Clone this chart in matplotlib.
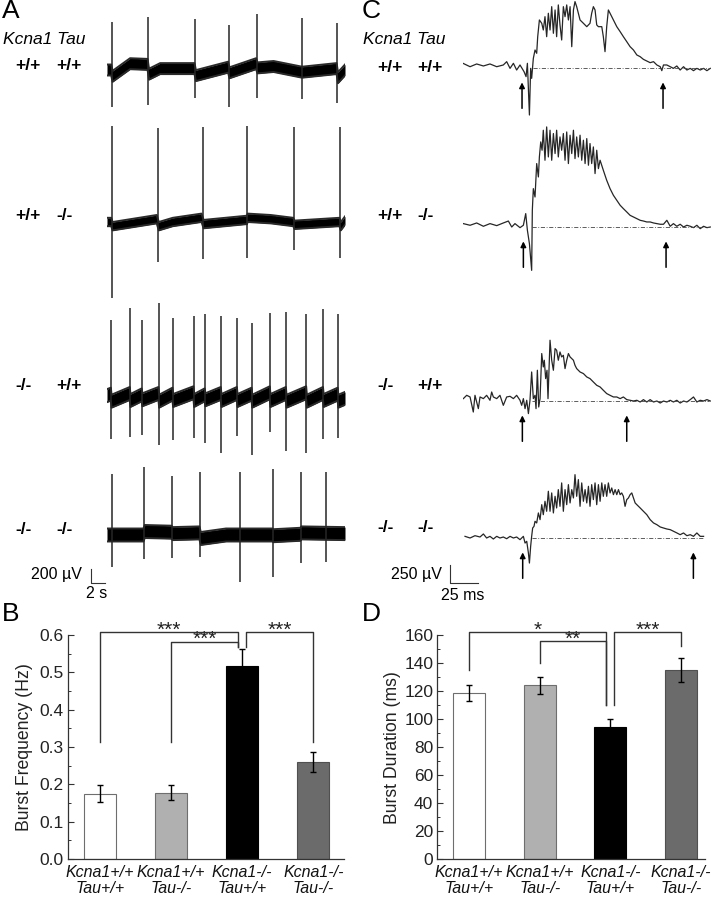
import numpy as np
import matplotlib
matplotlib.use('Agg')
import matplotlib.pyplot as plt
from matplotlib.ticker import MultipleLocator

plt.rcParams['font.family'] = ['Liberation Sans', 'DejaVu Sans']

# ---------------- data ----------------
genotypes = [("+/+", "+/+"), ("+/+", "-/-"), ("-/-", "+/+"), ("-/-", "-/-")]
group_labels = ["Kcna1+/+\nTau+/+", "Kcna1+/+\nTau-/-", "Kcna1-/-\nTau+/+", "Kcna1-/-\nTau-/-"]

# Panel A: spike times (s), up / down amplitudes (uV), baseline drift (s, uV)
a1_t = [0.7, 5.9, 12.6, 17.4, 21.4, 27.9, 32.9]
a1_up = [690, 760, 730, 640, 800, 740, 670]
a1_dn = [530, 500, 400, 530, 400, 410, 470]
a1_bt = [0, 0.6, 0.8, 3.3, 5.8, 6.0, 7.6, 12.5, 12.7, 17.3, 17.5, 21.3, 21.5, 23.8, 27.8, 28.0, 32.8, 33.0, 34.0]
a1_bv = [0, 0, -90, 90, 80, -60, 20, 20, -80, 40, -40, 90, 30, 50, -30, -30, 20, -110, 0]

a2_t = [0.7, 7.3, 13.7, 20.0, 26.7, 33.3]
a2_up = [1370, 1340, 1360, 1370, 1360, 1360]
a2_dn = [1090, 570, 530, 515, 400, 515]
a2_bt = [0, 0.6, 0.8, 7.1, 7.4, 9.4, 13.5, 13.8, 20.0, 20.1, 23.4, 26.6, 26.8, 33.2, 33.4, 34.0]
a2_bv = [0, 0, -60, 40, -60, 0, 60, -30, 30, 60, 40, 0, -40, 0, -60, 20]

a3_t = [0.6, 3.3, 5.0, 7.4, 9.4, 12.4, 14.0, 16.3, 18.6, 20.7, 23.3, 25.6, 28.5, 30.9, 33.0]
a3_up = [1100, 1270, 1100, 1340, 1130, 1160, 1190, 1160, 1130, 1060, 1200, 1210, 1190, 1260, 1190]
a3_dn = [600, 570, 540, 690, 610, 590, 660, 800, 560, 830, 500, 770, 800, 600, 590]
a3_bt = [0, 0.55, 0.65, 3.25, 3.35, 4.95, 5.05, 7.35, 7.45, 9.35, 9.45, 12.35, 12.45, 13.95, 14.05, 16.25,
         16.35, 18.55, 18.65, 20.65, 20.75, 23.25, 23.35, 25.55, 25.65, 28.45, 28.55, 30.85, 30.95, 32.95, 33.05, 34.0]
a3_bv = [20, 40, -60, 50, -50, 30, -40, 50, -60, 40, -50, 60, -50, 30, -40, 50,
         -50, 50, -50, 40, -60, 60, -50, 50, -60, 60, -60, 50, -50, 40, -60, -20]

a4_t = [0.7, 5.3, 9.3, 13.3, 19.0, 23.7, 27.7, 31.3]
a4_up = [870, 970, 840, 900, 900, 940, 900, 900]
a4_dn = [460, 340, 330, 310, 670, 600, 400, 390]
a4_bt = [0, 5.2, 5.4, 9.2, 9.4, 13.2, 13.4, 17.0, 23.6, 23.8, 27.6, 27.8, 34.0]
a4_bv = [0, 0, 50, 40, 20, 30, -50, 0, 0, -10, 10, 30, 20]

# Panel C: single bursts (ms, uV)
c1_t = [0, 6.3, 12.2, 18.2, 24.1, 30.1, 36.0, 39.0, 42.0, 45.0, 47.9, 50.9, 54.5, 56.3, 57.5, 59.3, 60.4, 61.3,
        62.8, 64.3, 65.8, 66.7, 68.2, 70.3, 71.7, 73.2, 74.7, 76.2, 77.7, 79.2, 80.7, 82.2, 83.6, 85.1, 86.6,
        88.1, 89.6, 91.1, 92.6, 94.1, 95.6, 97.1, 98.6, 100.0, 101.5, 103.0, 104.5, 107.5, 110.5, 113.4, 114.9,
        116.4, 117.9, 119.4, 120.9, 123.9, 125.3, 126.8, 128.3, 129.8, 131.3, 134.3, 137.3, 140.3, 143.2, 146.2,
        149.2, 152.2, 155.2, 158.2, 161.1, 164.1, 167.1, 170.1, 173.1, 176.1, 177.5, 179.0, 182.0, 185.0, 187.9,
        190.9, 193.9, 196.9, 199.9, 202.9, 205.8, 208.8, 211.8, 214.8, 217.8, 220.8]
c1_v = [65, 18, 56, 28, 56, 18, 42, 88, -5, 65, -28, 42, -51, -120, 65, -653, -5, -144,
        134, 250, 204, 435, 667, 621, 528, 713, 435, 760, 528, 852, 482, 806, 435, 876, 598,
        389, 852, 713, 876, 667, 852, 296, 806, 922, 852, 760, 667, 621, 574, 621, 760,
        852, 806, 598, 574, 574, 435, 227, 574, 806, 760, 667, 574, 505, 435, 366,
        296, 250, 181, 157, 120, 97, 74, 88, 42, 18, -37, 42, 42, 18, -5,
        28, -28, 18, -28, -5, -37, -5, -28, -5, -37, -5]

c2_t = [0.3, 6.3, 12.2, 18.2, 24.1, 30.1, 36.0, 40.5, 43.5, 46.4, 50.9, 53.9, 56.0, 57.5, 59.3, 61.3, 61.9,
        62.8, 64.3, 65.8, 67.3, 68.2, 69.4, 70.6, 71.7, 73.2, 74.7, 76.2, 77.7, 79.2, 80.7, 82.2, 83.6, 85.1,
        86.6, 88.1, 89.6, 91.1, 92.6, 94.1, 95.6, 97.1, 98.6, 100.0, 101.5, 103.0, 104.5, 106.0, 107.5, 109.0,
        110.5, 112.0, 113.4, 114.9, 116.4, 117.9, 119.4, 120.9, 122.4, 125.3, 128.3, 131.3, 134.3, 137.3, 140.3,
        143.2, 146.2, 149.2, 152.2, 155.2, 158.2, 161.1, 164.1, 167.1, 170.1, 173.1, 176.1, 179.0, 182.0, 185.0,
        187.9, 190.9, 193.9, 196.9, 199.9, 202.9, 205.8, 208.8, 211.8, 214.8, 217.8, 220.8]
c2_v = [47, 24, 56, 10, 47, 19, 56, 83, 0, 47, -9, 24, 186, -46, -231, -602, 232,
        533, 417, 881, 695, 973, 1182, 1066, 1344, 927, 1390, 973, 1344, 927, 1298, 1020, 1344, 973,
        1251, 1066, 1298, 927, 1320, 881, 1275, 1020, 1344, 950, 1251, 973, 1275, 927, 1205, 881,
        1228, 858, 1159, 881, 1112, 742, 1066, 811, 927, 788, 649, 533, 440, 371, 302,
        255, 209, 162, 139, 116, 93, 83, 70, 70, 56, 47, 38, 38, 93, 10,
        47, 10, 38, 0, 24, 10, -9, 24, -23, 10, -9, 0]

c3_t = [0.3, 3.3, 6.3, 9.2, 10.7, 13.7, 15.2, 18.2, 21.1, 24.1, 25.6, 27.1, 30.1, 33.0, 36.0, 39.0, 42.0, 45.0,
        47.9, 50.9, 52.4, 53.9, 55.4, 56.9, 58.4, 59.8, 61.3, 62.8, 64.3, 65.2, 66.4, 67.6, 68.8, 70.3, 71.7,
        72.6, 73.8, 75.0, 75.9, 77.7, 79.2, 80.7, 82.2, 83.6, 85.1, 86.6, 88.1, 89.6, 91.1, 92.6, 94.1, 95.6,
        97.1, 98.6, 100.0, 101.5, 104.5, 107.5, 110.5, 113.4, 116.4, 119.4, 122.4, 125.3, 128.3, 131.3, 134.3,
        137.3, 140.3, 143.2, 146.2, 149.2, 152.2, 155.2, 158.2, 161.1, 164.1, 167.1, 170.1, 173.1, 176.1, 179.0,
        182.0, 185.0, 187.9, 190.9, 193.9, 196.9, 199.9, 202.9, 205.8, 208.8, 211.8, 214.8, 217.8, 220.8]
c3_v = [33, 79, 56, -153, 79, -106, 56, 33, 79, 10, 125, 56, 33, 79, -60, 56, 65, 33,
        79, 10, -60, 33, -106, 10, -175, 10, 403, 33, 79, -106, 427, -83, 33, 659, 473,
        566, 311, 427, 33, 844, 566, 427, 728, 705, 566, 681, 612, 635, 450, 566, 659, 612,
        589, 566, 496, 450, 403, 381, 334, 311, 264, 218, 195, 149, 103, 79, 56,
        56, 33, 56, 19, 10, 0, 10, -14, 19, -14, 19, -14, 0, -28, 0,
        -14, 10, -14, 10, -28, 0, -14, 19, 56, -14, 10, 0, 19, 0]

c4_t = [1.8, 6.3, 10.7, 15.2, 18.2, 21.1, 24.1, 27.1, 30.1, 33.0, 36.0, 39.0, 42.0, 45.0, 47.9, 50.9, 53.9,
        55.4, 56.9, 58.4, 59.3, 60.4, 61.3, 62.2, 63.4, 64.3, 65.8, 67.3, 68.8, 70.3, 71.7, 73.2, 74.7, 76.2,
        77.7, 79.2, 80.7, 82.2, 83.6, 85.1, 86.6, 88.1, 89.6, 91.1, 92.6, 94.1, 95.6, 97.1, 98.6, 100.0, 101.5,
        103.0, 104.5, 106.0, 107.5, 109.0, 110.5, 112.0, 113.4, 114.9, 116.4, 117.9, 119.4, 120.9, 122.4, 123.9,
        125.3, 126.8, 128.3, 129.8, 131.3, 132.8, 134.3, 135.8, 137.3, 138.8, 140.3, 141.7, 143.2, 144.7, 146.2,
        147.7, 149.2, 150.7, 152.2, 153.7, 155.2, 158.2, 161.1, 164.1, 167.1, 170.1, 173.1, 176.1, 179.0, 182.0,
        185.0, 188.0, 191.0, 193.9, 196.9, 199.9, 202.9, 205.8, 208.8, 211.8, 214.8]
c4_v = [23, 0, 32, 14, 56, 0, 23, -14, 23, 0, 14, -10, 23, 0, 14, -23, 23,
        -70, -46, -209, -348, -116, 23, 139, 162, 232, 209, 348, 255, 463, 324, 510, 371, 649,
        371, 626, 348, 579, 417, 672, 440, 765, 371, 672, 463, 741, 487, 672, 556, 880, 579,
        811, 440, 765, 510, 672, 487, 718, 440, 741, 533, 765, 463, 741, 510, 765,
        579, 741, 579, 765, 626, 695, 602, 672, 602, 672, 602, 626, 579, 440, 533,
        556, 602, 626, 556, 487, 463, 417, 371, 324, 255, 209, 185, 153, 139, 125,
        116, 93, 70, 46, 70, 32, 46, 23, 70, 23, 23]

c_arrows = [[52.7, 178.6], [53.9, 181.3], [53.0, 146.2], [53.3, 205.7]]
c_ref = [[62.8, 220.0], [61.3, 220.0], [61.3, 220.0], [61.3, 214.8]]

# Panels B / D
freq = [0.175, 0.177, 0.518, 0.260]
freq_err = [0.022, 0.020, 0.045, 0.027]
dur = [118.5, 124.0, 94.5, 135.0]
dur_err = [5.5, 6.0, 5.5, 8.5]
bar_colors = ['white', '#b0b0b0', 'black', '#6b6b6b']
bar_edges = ['#6e6e6e', '#6e6e6e', 'black', '#505050']
# brackets: x_left, x_right, y_top, y_left_end, y_right_end, label
freq_brackets = [(0, 1.94, 0.607, 0.314, 0.569, '***'),
                 (1, 1.94, 0.582, 0.314, 0.569, '***'),
                 (2.06, 3, 0.607, 0.569, 0.314, '***')]
dur_brackets = [(0, 1.945, 161.9, 135, 110, '*'),
                (1, 1.945, 155.7, 139.8, 110, '**'),
                (2.055, 3, 161.9, 110, 152, '***')]

# ---------------- layout helpers ----------------
W, H = 714, 899
fig = plt.figure(figsize=(W / 100, H / 100), dpi=100)


def px_rect(x0, y0, x1, y1):
    return [x0 / W, 1 - y1 / H, (x1 - x0) / W, (y1 - y0) / H]


def ftext(x, y, s, **kw):
    kw.setdefault('va', 'center')
    fig.text(x / W, 1 - y / H, s, **kw)


# ---------------- Panel A ----------------
UV_A = 200 / 14.0      # uV per pixel
A_BASE = [70, 222, 397, 535]
A_HALF = [5.5, 4.2, 6.5, 6.5]   # half thickness of noise band, px
a_rows = [(a1_bt, a1_bv, a1_t, a1_up, a1_dn), (a2_bt, a2_bv, a2_t, a2_up, a2_dn),
          (a3_bt, a3_bv, a3_t, a3_up, a3_dn), (a4_bt, a4_bv, a4_t, a4_up, a4_dn)]
a_axes = []
for i, (bt, bv, st, up, dn) in enumerate(a_rows):
    b = A_BASE[i]
    ax = fig.add_axes(px_rect(107, b - 120, 345, b + 120))
    ax.set_xlim(0, 34)
    ax.set_ylim(-120 * UV_A, 120 * UV_A)
    ax.axis('off')
    hw = A_HALF[i] * UV_A
    bvv = np.array(bv, dtype=float)
    ax.fill_between(bt, bvv - hw, bvv + hw, color='black', lw=0)
    ax.plot(bt, bvv + hw, color='#2a2a2a', lw=1.4, solid_joinstyle='round')
    ax.plot(bt, bvv - hw, color='#2a2a2a', lw=1.4, solid_joinstyle='round')
    ax.vlines(st, -np.array(dn), up, color='#262626', lw=1.1)
    a_axes.append(ax)

# scale bar A
ax = a_axes[3]
sb_t0, sb_v0 = -2.3, -(583 - 535) * UV_A
ax.plot([sb_t0, sb_t0, sb_t0 + 2], [sb_v0 + 200, sb_v0, sb_v0], color='#333333', lw=0.8, clip_on=False)
ftext(82, 574, "200 \u00b5V", ha='right', fontsize=11.5)
ftext(97, 593, "2 s", ha='center', fontsize=11.5)

# ---------------- Panel C ----------------
UV_C = 250 / 18.0
PX_MS = 28 / 25.0
C_BASE = [68, 227, 401, 538]
c_rows = [(c1_t, c1_v), (c2_t, c2_v), (c3_t, c3_v), (c4_t, c4_v)]
c_axes = []
for i, (tt, vv) in enumerate(c_rows):
    b = C_BASE[i]
    ax = fig.add_axes(px_rect(463, b - 120, 463 + 221 * PX_MS, b + 120))
    ax.set_xlim(0, 221)
    ax.set_ylim(-120 * UV_C, 120 * UV_C)
    ax.axis('off')
    ax.plot(tt, vv, color='#262626', lw=0.9)
    ax.plot(c_ref[i], [0, 0], color='#444444', lw=0.6, linestyle=(0, (5, 2, 1, 2)))
    for ta in c_arrows[i]:
        ax.annotate('', xy=(ta, -200), xytext=(ta, -560),
                    arrowprops=dict(arrowstyle='-|>', color='black', lw=1.1, mutation_scale=8,
                                    shrinkA=0, shrinkB=0),
                    annotation_clip=False)
    c_axes.append(ax)

ax = c_axes[3]
sc_t0, sc_v0 = -(463 - 450) / PX_MS, -(583 - 538) * UV_C
ax.plot([sc_t0, sc_t0, sc_t0 + 25], [sc_v0 + 250, sc_v0, sc_v0], color='#333333', lw=0.8, clip_on=False)
ftext(442, 575, "250 \u00b5V", ha='right', fontsize=11.5)
ftext(463, 595, "25 ms", ha='center', fontsize=11.5)

# ---------------- labels A / C ----------------
ftext(2, 11, "A", fontsize=19)
ftext(362, 11, "C", fontsize=19)
ftext(3, 39, "Kcna1 Tau", fontsize=12.5, style='italic')
ftext(363, 39, "Kcna1 Tau", fontsize=12.5, style='italic')
A_LAB_Y = [66, 215, 385, 529]
C_LAB_Y = [67, 215, 385, 528]
for i, (g1, g2) in enumerate(genotypes):
    ftext(15, A_LAB_Y[i], g1, fontsize=12.5, fontweight='bold')
    ftext(56, A_LAB_Y[i], g2, fontsize=12.5, fontweight='bold')
    ftext(377, C_LAB_Y[i], g1, fontsize=12.5, fontweight='bold')
    ftext(417, C_LAB_Y[i], g2, fontsize=12.5, fontweight='bold')

ftext(2, 614, "B", fontsize=19)
ftext(362, 614, "D", fontsize=19)


# ---------------- bar panels ----------------
def bar_panel(ax, vals, errs, ymax, major, minor, ylabel, brackets, xlim, labelpad, fmt):
    x = np.arange(len(vals))
    ax.patch.set_alpha(0)
    ax.bar(x, vals, width=0.45, color=bar_colors, edgecolor=bar_edges, linewidth=0.8, zorder=2)
    ax.errorbar(x, vals, yerr=errs, fmt='none', ecolor='black', elinewidth=1.0,
                capsize=2.5, capthick=1.0, zorder=3)
    ax.set_ylim(0, ymax)
    ax.set_xlim(*xlim)
    ax.yaxis.set_major_locator(MultipleLocator(major))
    ax.yaxis.set_minor_locator(MultipleLocator(minor))
    ax.yaxis.set_major_formatter(fmt)
    for s in ['top', 'right']:
        ax.spines[s].set_visible(False)
    for s in ['left', 'bottom']:
        ax.spines[s].set_color('#333333')
        ax.spines[s].set_linewidth(0.9)
    ax.tick_params(axis='y', which='major', direction='in', length=4, width=0.8, color='#333333',
                   labelsize=12.5, pad=3, labelcolor='#222222')
    ax.tick_params(axis='y', which='minor', direction='in', length=2, width=0.7, color='#333333')
    ax.set_xticks(x)
    ax.set_xticklabels(group_labels, fontsize=11.5, style='italic', linespacing=1.12, color='#111111')
    ax.tick_params(axis='x', length=0, pad=4)
    ax.set_ylabel(ylabel, fontsize=12.7, labelpad=labelpad, color='#222222')
    for (xl, xr, yt, yl, yr, lab) in brackets:
        ax.plot([xl, xl, xr, xr], [yl, yt, yt, yr], color='#333333', lw=1.0, clip_on=False, zorder=4)
        ax.annotate(lab, xy=((xl + xr) / 2, yt), xytext=(0, -2.5), textcoords='offset points',
                    ha='center', va='baseline', fontsize=15, color='#222222', annotation_clip=False)


axB = fig.add_axes(px_rect(68, 635, 344, 859))
bar_panel(axB, freq, freq_err, 0.6, 0.1, 0.05, "Burst Frequency (Hz)", freq_brackets,
          (-0.445, 3.43), 5, matplotlib.ticker.FormatStrFormatter('%.1f'))
axD = fig.add_axes(px_rect(437.3, 635, 705, 859.3))
bar_panel(axD, dur, dur_err, 160, 20, 10, "Burst Duration (ms)", dur_brackets,
          (-0.45, 3.34), 2, matplotlib.ticker.FormatStrFormatter('%d'))

fig.savefig('out.png', dpi=100)
